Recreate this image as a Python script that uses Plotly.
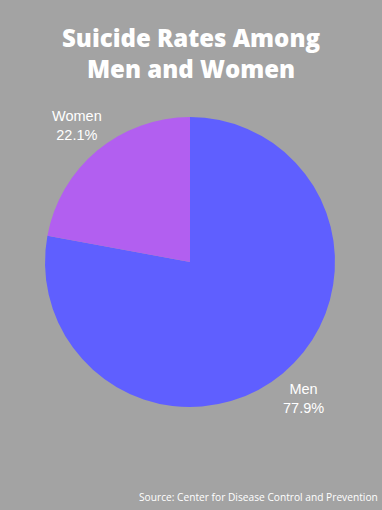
import math
import plotly.graph_objects as go

labels = ["Men", "Women"]
values = [77.9, 22.1]
colors = ["#5f5fff", "#b25ff0"]

W, H = 382, 510
cx, cy, r = 190, 262, 145
label_r = r + 32

fig = go.Figure(go.Pie(
    labels=labels,
    values=values,
    marker=dict(colors=colors, line=dict(width=0)),
    sort=False,
    direction="clockwise",
    rotation=0,
    textinfo="none",
    hoverinfo="label+percent",
    showlegend=False,
    domain=dict(x=[(cx - r) / W, (cx + r) / W], y=[1 - (cy + r) / H, 1 - (cy - r) / H]),
))

# outside labels at each slice's mid-angle (derived from the values)
total = sum(values)
annotations = []
cum = 0.0
for lab, v in zip(labels, values):
    mid = (cum + v / 2) / total * 2 * math.pi
    cum += v
    px = cx + label_r * math.sin(mid)
    py = cy - label_r * math.cos(mid)
    annotations.append(dict(
        text=f"{lab}<br>{v / total * 100:.1f}%",
        x=px / W, y=1 - py / H, xref="paper", yref="paper",
        xanchor="center", yanchor="middle", showarrow=False,
        font=dict(family="Liberation Sans, Arial, sans-serif", size=14.5, color="white"),
    ))

annotations.append(dict(
    text="Source: Center for Disease Control and Prevention",
    x=1, xref="paper", xanchor="right", xshift=-2,
    y=1 - 497 / H, yref="paper", yanchor="middle",
    showarrow=False,
    font=dict(family="Open Sans", size=10.2, color="white"),
))

fig.update_layout(
    width=W, height=H,
    paper_bgcolor="#a3a3a3",
    plot_bgcolor="#a3a3a3",
    margin=dict(l=0, r=0, t=0, b=0),
    title=dict(
        text="Suicide Rates Among<br>Men and Women",
        font=dict(family="Open Sans", size=24, color="white", weight=800),
        x=0.5, xanchor="center", y=1 - 47 / H, yanchor="middle",
    ),
    annotations=annotations,
)

fig.write_html("out.html", config={"displayModeBar": False})
with open("out.html", encoding="utf-8") as f:
    html = f.read()
html = html.replace("<head>", "<head><style>html,body{margin:0;padding:0;overflow:hidden;}</style>", 1)
with open("out.html", "w", encoding="utf-8") as f:
    f.write(html)
